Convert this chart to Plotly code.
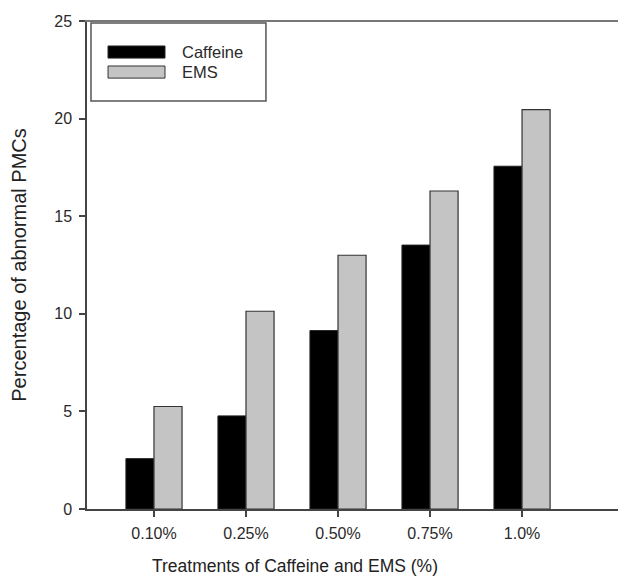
import plotly.graph_objects as go

categories = ["0.10%", "0.25%", "0.50%", "0.75%", "1.0%"]
caffeine = [2.58, 4.77, 9.14, 13.52, 17.56]
ems = [5.25, 10.13, 13.0, 16.29, 20.46]
y_ticks = [0, 5, 10, 15, 20, 25]
series_names = ["Caffeine", "EMS"]

FONT = "Liberation Sans, Arial, sans-serif"
# page body has an 8px margin: plot area in page pixels is x 87..626, y 21..509
fig = go.Figure()
fig.add_trace(go.Bar(x=categories, y=caffeine, name=series_names[0],
                     marker=dict(color="#000000", line=dict(color="#222222", width=1)),
                     showlegend=False))
fig.add_trace(go.Bar(x=categories, y=ems, name=series_names[1],
                     marker=dict(color="#c4c4c4", line=dict(color="#333333", width=1.2)),
                     showlegend=False))

shapes = [
    dict(type="rect", xref="paper", yref="paper", x0=0.0074, x1=0.332, y0=0.836, y1=0.996,
         line=dict(color="#555555", width=1.5), fillcolor="white", layer="above"),
    dict(type="rect", xref="paper", yref="paper", x0=0.039, x1=0.1447, y0=0.924, y1=0.9488,
         line=dict(color="#222222", width=1), fillcolor="#000000", layer="above"),
    dict(type="rect", xref="paper", yref="paper", x0=0.039, x1=0.1447, y0=0.883, y1=0.9078,
         line=dict(color="#333333", width=1), fillcolor="#c4c4c4", layer="above"),
    dict(type="line", xref="paper", yref="paper", x0=-0.004, x1=1, y0=1, y1=1,
         line=dict(color="#777777", width=2)),
]
annotations = [
    dict(xref="paper", yref="paper", x=0.1725, y=0.9365, text=series_names[0], showarrow=False,
         xanchor="left", yanchor="middle", font=dict(family=FONT, size=16.5, color="#2a2a2a")),
    dict(xref="paper", yref="paper", x=0.1725, y=0.8955, text=series_names[1], showarrow=False,
         xanchor="left", yanchor="middle", font=dict(family=FONT, size=16.5, color="#2a2a2a")),
    dict(xref="paper", yref="paper", x=(295 - 87) / 539, y=-(566 - 509) / 488,
         text="Treatments of Caffeine and EMS (%)", showarrow=False,
         xanchor="center", yanchor="middle", font=dict(family=FONT, size=17.5, color="#222222")),
]

fig.update_layout(
    width=618, height=571,
    margin=dict(l=79, r=0, t=13, b=70),
    paper_bgcolor="white", plot_bgcolor="white",
    barmode="group", bargap=0.39, bargroupgap=0,
    font=dict(family=FONT, color="#2a2a2a"),
    shapes=shapes, annotations=annotations,
    xaxis=dict(type="category", range=[-0.728, 5.13], showgrid=False,
               showline=True, linecolor="#444444", linewidth=1.5,
               ticks="outside", ticklen=6, tickcolor="#444444", tickwidth=1.5,
               tickfont=dict(family=FONT, size=16, color="#2a2a2a"),
               ticklabelstandoff=3, zeroline=False),
    yaxis=dict(range=[0, 25], tickvals=y_ticks, showgrid=False,
               showline=True, linecolor="#444444", linewidth=1.5,
               ticks="outside", ticklen=6, tickcolor="#444444", tickwidth=1.5,
               tickfont=dict(family=FONT, size=16, color="#2a2a2a"),
               ticklabelstandoff=4, zeroline=False,
               title=dict(text="Percentage of abnormal PMCs", standoff=22,
                          font=dict(family=FONT, size=20, color="#222222"))),
)

fig.write_html("out.html")
